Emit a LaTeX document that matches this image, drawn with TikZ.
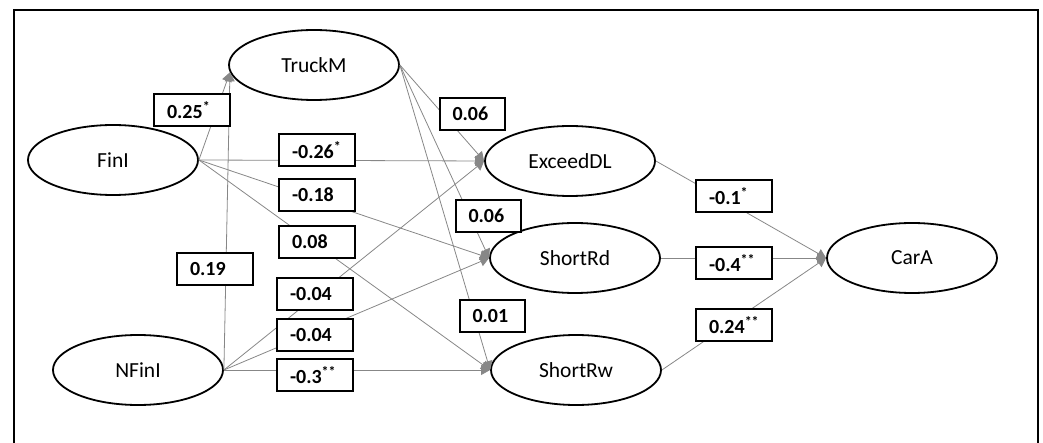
\documentclass[tikz,border=0pt]{standalone}
\usepackage{fontspec}
\setmainfont{Carlito}
\usetikzlibrary{arrows.meta,shapes.geometric}
\definecolor{pathgray}{RGB}{135,135,135}
\newcommand{\coeftext}[2]{\mbox{#1\textsuperscript{#2}}}
\begin{document}
\begin{tikzpicture}[x=1pt,y=-1pt,
  latent/.style={ellipse,draw=black,line width=1.8pt,fill=white,
    minimum width=170pt,minimum height=70pt,inner sep=0pt,
    font=\fontsize{21.5}{25}\selectfont},
  coef/.style={draw=black,line width=2pt,fill=white,inner xsep=13pt,
    inner ysep=0pt,minimum height=32pt,text width=50pt,align=left,
    font=\fontsize{20}{23}\selectfont\bfseries},
  coefn/.style={coef,text width=39pt},
  path/.style={draw=pathgray,line width=0.8pt,
    -{Triangle[length=9pt,width=10pt,fill=pathgray]}}]
\useasboundingbox (0,0) rectangle (1043,443);
% outer frame
\draw[line width=2.5pt] (14,443) -- (14,10) -- (1038,10) -- (1038,443);

% latent variables
\node[latent] (TruckM)   at (314,65)  {TruckM};
\node[latent] (FinI)     at (113,160) {FinI};
\node[latent] (NFinI)    at (138,370) {NFinI};
\node[latent] (ExceedDL) at (570,161) {ExceedDL};
\node[latent] (ShortRd)  at (575,258) {ShortRd};
\node[latent] (ShortRw)  at (576,370) {ShortRw};
\node[latent] (CarA)     at (912,258) {CarA};

% structural paths
\draw[path] (FinI.east)  -- (TruckM.185);
\draw[path] (NFinI.east) -- (TruckM.185);
\draw[path] (TruckM.east) -- (ExceedDL.west);
\draw[path] (TruckM.east) -- (ShortRd.west);
\draw[path] (TruckM.east) -- (ShortRw.west);
\draw[path] (FinI.east) -- (ExceedDL.west);
\draw[path] (FinI.east) -- (ShortRd.west);
\draw[path] (FinI.east) -- (ShortRw.west);
\draw[path] (NFinI.east) -- (ExceedDL.west);
\draw[path] (NFinI.east) -- (ShortRd.west);
\draw[path] (NFinI.east) -- (ShortRw.west);
\draw[path] (ExceedDL.east) -- (CarA.west);
\draw[path] (ShortRd.east) -- (CarA.west);
\draw[path] (ShortRw.east) -- (CarA.west);

% path coefficients
\node[coef]  (c1)  at (192,110) {\coeftext{0.25}{*}};
\node[coef]  (c2)  at (317,150) {\coeftext{-0.26}{*}};
\node[coef]  (c3)  at (317,195) {\coeftext{-0.18}{}};
\node[coef]  (c4)  at (317,242) {\coeftext{0.08}{}};
\node[coef]  (c5)  at (215,269) {\coeftext{0.19}{}};
\node[coef]  (c6)  at (315,294) {\coeftext{-0.04}{}};
\node[coef]  (c7)  at (315,335) {\coeftext{-0.04}{}};
\node[coef]  (c8)  at (315,375) {\coeftext{-0.3}{**}};
\node[coefn] (c9)  at (472,114) {\coeftext{0.06}{}};
\node[coefn] (c10) at (488,216) {\coeftext{0.06}{}};
\node[coefn] (c11) at (492,316) {\coeftext{0.01}{}};
\node[coef]  (c12) at (734,196) {\coeftext{-0.1}{*}};
\node[coef]  (c13) at (734,263) {\coeftext{-0.4}{**}};
\node[coef]  (c14) at (734,325) {\coeftext{0.24}{**}};
\end{tikzpicture}
\end{document}
